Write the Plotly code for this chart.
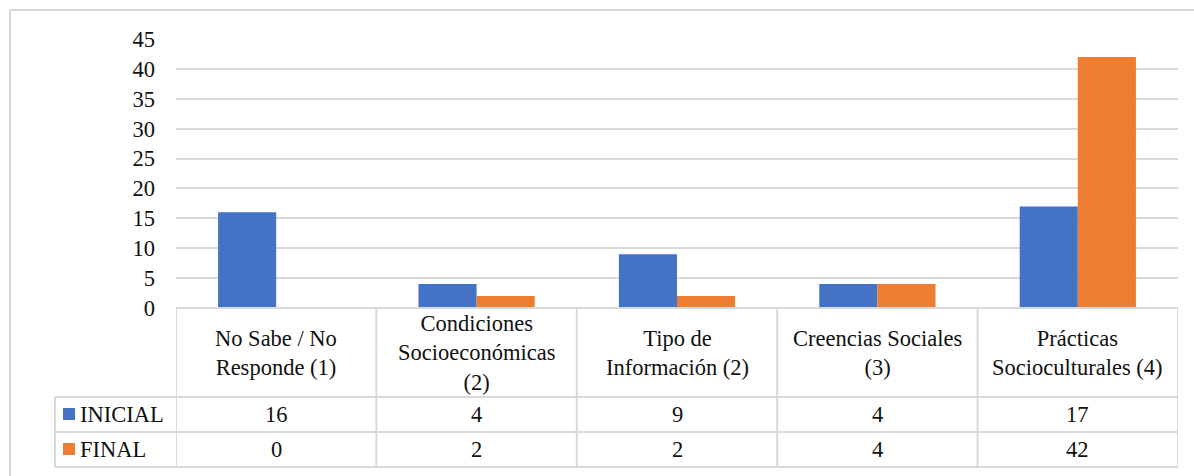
import plotly.graph_objects as go

categories = ["No Sabe / No Responde (1)", "Condiciones Socioeconómicas (2)",
              "Tipo de Información (2)", "Creencias Sociales (3)",
              "Prácticas Socioculturales (4)"]
header_labels = ["No Sabe / No<br>Responde (1)", "Condiciones<br>Socioeconómicas<br>(2)",
                 "Tipo de<br>Información (2)", "Creencias Sociales<br>(3)",
                 "Prácticas<br>Socioculturales (4)"]
series_names = ["INICIAL", "FINAL"]
inicial = [16, 4, 9, 4, 17]
final = [0, 2, 2, 4, 42]
y_ticks = [0, 5, 10, 15, 20, 25, 30, 35, 40, 45]

BLUE = "#4472C4"
ORANGE = "#ED7D31"
GRID = "#D9D9D9"
FONT = "Liberation Serif"
FS = 22.5

W, H = 1194, 476
L, R, T, B = 176, 16, 39, 168
PW = W - L - R
PH = H - T - B


def px_x(px):
    return (px - L) / PW


def px_y(py):
    return (H - B - py) / PH


fig = go.Figure()
fig.add_trace(go.Bar(x=categories, y=inicial, name=series_names[0],
                     marker=dict(color=BLUE, line=dict(width=0))))
fig.add_trace(go.Bar(x=categories, y=final, name=series_names[1],
                     marker=dict(color=ORANGE, line=dict(width=0))))

shapes = []
line = dict(color=GRID, width=2)
n = len(categories)
shapes.append(dict(type="line", xref="x", yref="paper", x0=-0.5, x1=n - 0.5,
                   y0=0, y1=0, line=line))
row_lines = [px_y(397), px_y(432), px_y(467)]
for yl in row_lines:
    shapes.append(dict(type="line", xref="paper", yref="paper", x0=px_x(55), x1=1,
                       y0=yl, y1=yl, line=line))
for i in range(n + 1):
    shapes.append(dict(type="line", xref="x", yref="paper", x0=i - 0.5, x1=i - 0.5,
                       y0=0, y1=row_lines[-1], line=line))
shapes.append(dict(type="line", xref="paper", yref="paper", x0=px_x(55), x1=px_x(55),
                   y0=row_lines[0], y1=row_lines[-1], line=line))
for (ytop, ybot), col in zip([(408, 420), (443, 455)], [BLUE, ORANGE]):
    shapes.append(dict(type="rect", xref="paper", yref="paper",
                       x0=px_x(63), x1=px_x(75), y0=px_y(ybot), y1=px_y(ytop),
                       fillcolor=col, line=dict(width=0)))
shapes.append(dict(type="line", xref="paper", yref="paper", x0=px_x(10), x1=px_x(10),
                   y0=px_y(10), y1=px_y(490), line=dict(color=GRID, width=2)))
shapes.append(dict(type="line", xref="paper", yref="paper", x0=px_x(10), x1=px_x(1210),
                   y0=px_y(10), y1=px_y(10), line=dict(color=GRID, width=2)))

annotations = []
font = dict(family=FONT, size=FS, color="#111111")
for cat, lab in zip(categories, header_labels):
    annotations.append(dict(x=cat, xref="x", y=px_y(352.5), yref="paper", text=lab,
                            showarrow=False, font=font, xanchor="center",
                            yanchor="middle", align="center"))
for vals, yc in zip([inicial, final], [px_y(414.5), px_y(449.5)]):
    for cat, v in zip(categories, vals):
        annotations.append(dict(x=cat, xref="x", y=yc, yref="paper", text=str(v),
                                showarrow=False, font=font, xanchor="center",
                                yanchor="middle"))
for name, yc in zip(series_names, [px_y(414.5), px_y(449.5)]):
    annotations.append(dict(x=px_x(78), xref="paper", y=yc, yref="paper", text=name,
                            showarrow=False, font=font, xanchor="left",
                            yanchor="middle"))

fig.update_layout(
    width=W, height=H, autosize=False,
    margin=dict(l=L, r=R, t=T, b=B, pad=0),
    paper_bgcolor="white", plot_bgcolor="white",
    font=dict(family=FONT, size=FS, color="#111111"),
    barmode="group", bargap=0.42, bargroupgap=0,
    showlegend=False,
    shapes=shapes, annotations=annotations,
    xaxis=dict(type="category", range=[-0.5, n - 0.5], showticklabels=False,
               showgrid=False, zeroline=False, showline=False, ticks=""),
    yaxis=dict(range=[0, 45], tickvals=y_ticks, showgrid=True, gridcolor=GRID,
               gridwidth=2, zeroline=False, showline=False, ticks="",
               ticklabelstandoff=20, automargin=False,
               tickfont=dict(family=FONT, size=FS, color="#111111")),
)

fig.write_html("out.html", post_script="document.body.style.margin='0px';",
               config={"displayModeBar": False})
